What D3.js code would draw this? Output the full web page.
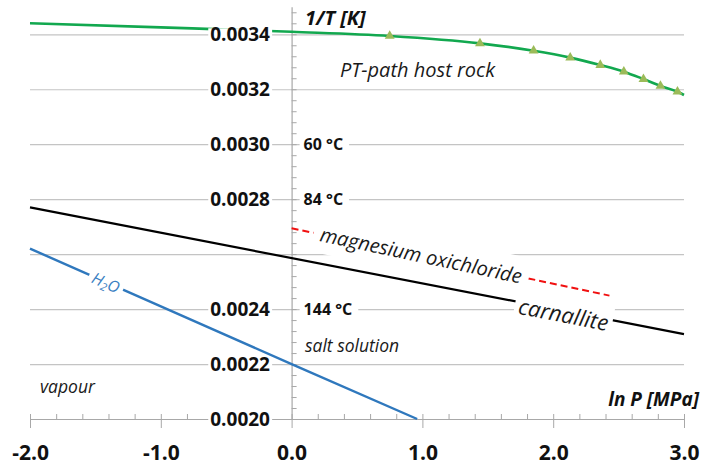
<!DOCTYPE html>
<html lang="en">
<head>
<meta charset="UTF-8">
<title>1/T vs ln P</title>
<script src="https://d3js.org/d3.v7.min.js"></script>
<style>
  body { margin: 0; background: #fff; }
  svg text { font-family: "Open Sans", sans-serif; }
</style>
</head>
<body>
<svg width="702" height="468"></svg>
<script>
// PT-path of the host rock (ln P [MPa] vs 1/T [1/K])
var hostLnP  = [-2.0, -1.0, 0.0, 0.75, 1.44, 1.85, 2.13, 2.36, 2.54, 2.69, 2.82, 2.95, 3.0];
var hostInvT = [0.00344, 0.003425, 0.003409, 0.003394, 0.003367, 0.00334, 0.003315, 0.003288, 0.003264, 0.003237, 0.003212, 0.003191, 0.003179];
var hostMarked = [false, false, false, true, true, true, true, true, true, true, true, true, false];

// carnallite decomposition line
var carnLnP  = [-2.0, 3.0];
var carnInvT = [0.00277, 0.002309];

// magnesium oxichloride (dashed)
var mgLnP  = [0.0, 2.43];
var mgInvT = [0.002694, 0.002449];

// H2O boiling curve
var h2oLnP  = [-2.0, 0.0, 0.96];
var h2oInvT = [0.00262, 0.0022, 0.0020];

// axis ticks
var xTicks = [-2, -1, 0, 1, 2, 3];
var xTickLabels = ["-2.0", "-1.0", "0.0", "1.0", "2.0", "3.0"];
var yTicks = [0.0020, 0.0022, 0.0024, 0.0026, 0.0028, 0.0030, 0.0032, 0.0034];
var yTickLabels = ["0.0020", "0.0022", "0.0024", "", "0.0028", "0.0030", "0.0032", "0.0034"];

// temperature marks on the 1/T axis
var tempInvT = [0.0030, 0.0028, 0.0024];
var tempLabels = ["60 °C", "84 °C", "144 °C"];

var svg = d3.select("svg");

var x = d3.scaleLinear().domain([-2, 3]).range([30, 684]);
var y = d3.scaleLinear().domain([0.0020, 0.0035]).range([419, 6.8]);

var gridColor = "#c4c4c4", axisColor = "#a8a8a8";

// gridlines
svg.append("g")
    .attr("transform", "translate(" + x(-2) + ",0)")
    .call(d3.axisLeft(y).tickValues(yTicks.slice(1)).tickSize(-(x(3) - x(-2))).tickFormat(""))
    .call(g => g.select(".domain").remove())
    .call(g => g.selectAll("line").attr("stroke", gridColor).attr("stroke-width", 1.2));

// x axis: minor ticks up, major ticks through
var xMinor = d3.range(-2, 3.001, 0.2);
svg.append("g")
    .attr("transform", "translate(0," + y(0.0020) + ")")
    .call(d3.axisTop(x).tickValues(xMinor).tickSize(5).tickSizeOuter(0).tickFormat(""))
    .call(g => g.select(".domain").attr("stroke", axisColor).attr("stroke-width", 1.2))
    .call(g => g.selectAll("line").attr("stroke", axisColor));
svg.append("g")
    .attr("transform", "translate(0," + y(0.0020) + ")")
    .call(d3.axisBottom(x).tickValues(xTicks).tickSize(9).tickSizeOuter(0)
      .tickFormat((d, i) => xTickLabels[i]))
    .call(g => g.select(".domain").remove())
    .call(g => g.selectAll("line").attr("stroke", axisColor))
    .call(g => g.selectAll("text")
      .attr("y", 41).attr("dy", null)
      .attr("fill", "#111").attr("font-size", 21).attr("font-weight", 700));

// y axis at ln P = 0, minor ticks to the right
var yMinor = d3.range(0, 38).map(k => 0.0020 + k * 0.00004);
svg.append("g")
    .attr("transform", "translate(" + x(0) + ",0)")
    .call(d3.axisRight(y).tickValues(yMinor).tickSize(5).tickSizeOuter(0).tickFormat(""))
    .call(g => g.select(".domain").attr("stroke", axisColor).attr("stroke-width", 1.2))
    .call(g => g.selectAll("line").attr("stroke", axisColor));

// lines
var line = d3.line().x(d => x(d[0])).y(d => y(d[1]));

svg.append("path")
    .datum(h2oLnP.map((v, i) => [v, h2oInvT[i]]))
    .attr("d", line)
    .attr("fill", "none").attr("stroke", "#2f78bd").attr("stroke-width", 2.4);

svg.append("path")
    .datum(carnLnP.map((v, i) => [v, carnInvT[i]]))
    .attr("d", line)
    .attr("fill", "none").attr("stroke", "#000").attr("stroke-width", 2.2);

svg.append("path")
    .datum(mgLnP.map((v, i) => [v, mgInvT[i]]))
    .attr("d", line)
    .attr("fill", "none").attr("stroke", "#f01010").attr("stroke-width", 2)
    .attr("stroke-dasharray", "7,4");

var hostData = hostLnP.map((v, i) => [v, hostInvT[i]]);
svg.append("path")
    .datum(hostData)
    .attr("d", line.curve(d3.curveMonotoneX))
    .attr("fill", "none").attr("stroke", "#12a84f").attr("stroke-width", 2.6);

svg.append("g").selectAll("path")
    .data(hostData.filter((d, i) => hostMarked[i]))
    .enter().append("path")
    .attr("transform", d => "translate(" + x(d[0]) + "," + y(d[1]) + ")")
    .attr("d", d3.symbol().type(d3.symbolTriangle).size(42))
    .attr("fill", "#9bbb59");

// text with a white box behind it
function boxLabel(cx, cy, angle, build, padX, padY) {
  var g = svg.append("g").attr("transform", "translate(" + cx + "," + cy + ") rotate(" + angle + ")");
  var rect = g.append("rect").attr("fill", "#fff");
  var t = g.append("text").attr("text-anchor", "middle").attr("dominant-baseline", "central");
  build(t);
  var b = t.node().getBBox();
  rect.attr("x", b.x - padX).attr("y", b.y - padY)
      .attr("width", b.width + 2 * padX).attr("height", b.height + 2 * padY);
  return g;
}

function slopeAngle(xs, ys) {
  var dx = x(xs[xs.length - 1]) - x(xs[0]), dy = y(ys[ys.length - 1]) - y(ys[0]);
  return Math.atan2(dy, dx) * 180 / Math.PI;
}

// y tick labels (left of axis)
yTicks.forEach(function(v, i) {
  if (!yTickLabels[i]) return;
  var g = svg.append("g");
  var rect = g.append("rect").attr("fill", "#fff");
  var t = g.append("text")
      .attr("x", 270).attr("y", y(v)).attr("dy", "0.36em")
      .attr("text-anchor", "end")
      .attr("font-size", 19).attr("font-weight", 700).attr("fill", "#111")
      .text(yTickLabels[i]);
  var b = t.node().getBBox();
  rect.attr("x", b.x - 2).attr("y", y(v) - 6).attr("width", b.width + 4).attr("height", 12);
});

// temperature labels
tempInvT.forEach(function(v, i) {
  var g = svg.append("g");
  var rect = g.append("rect").attr("fill", "#fff");
  var t = g.append("text")
      .attr("x", x(0) + 12).attr("y", y(v)).attr("dy", "0.36em")
      .attr("font-size", 16).attr("font-weight", 700).attr("fill", "#111")
      .text(tempLabels[i]);
  var b = t.node().getBBox();
  rect.attr("x", b.x - 4).attr("y", y(v) - 6).attr("width", b.width + 10).attr("height", 12);
});

// labels along lines
var mgAngle = slopeAngle(mgLnP, mgInvT);
boxLabel(x(0.99), y(0.002597), mgAngle, t => t
    .attr("font-size", 20).attr("font-style", "italic").attr("fill", "#1a1a1a")
    .text("magnesium oxichloride"), 7, 6);

var carnAngle = slopeAngle(carnLnP, carnInvT);
boxLabel(x(2.08), y(0.002384), carnAngle, t => t
    .attr("font-size", 22).attr("font-style", "italic").attr("fill", "#1a1a1a")
    .text("carnallite"), 4, 4);

var h2oAngle = slopeAngle(h2oLnP.slice(0, 2), h2oInvT.slice(0, 2));
boxLabel(x(-1.42), y(0.002497), h2oAngle, function(t) {
  t.attr("font-size", 16).attr("font-style", "italic").attr("fill", "#3a7fc2");
  t.append("tspan").text("H");
  t.append("tspan").attr("font-size", 11).attr("dy", 4).text("2");
  t.append("tspan").attr("dy", -4).text("O");
}, 4, 2);

// free text labels
svg.append("text").attr("x", 305).attr("y", 25)
    .attr("font-size", 20).attr("font-weight", 700).attr("font-style", "italic").attr("fill", "#111")
    .text("1/T [K]");
svg.append("text").attr("x", 340).attr("y", 77)
    .attr("font-size", 20).attr("font-style", "italic").attr("fill", "#1a1a1a")
    .text("PT-path host rock");
svg.append("text").attr("x", 305).attr("y", 352)
    .attr("font-size", 17.5).attr("font-style", "italic").attr("fill", "#1a1a1a")
    .text("salt solution");
svg.append("text").attr("x", 40).attr("y", 393)
    .attr("font-size", 17.5).attr("font-style", "italic").attr("fill", "#1a1a1a")
    .text("vapour");
svg.append("text").attr("x", 699).attr("y", 406).attr("text-anchor", "end")
    .attr("font-size", 19).attr("font-weight", 700).attr("font-style", "italic").attr("fill", "#111")
    .text("ln P [MPa]");
</script>
</body>
</html>
